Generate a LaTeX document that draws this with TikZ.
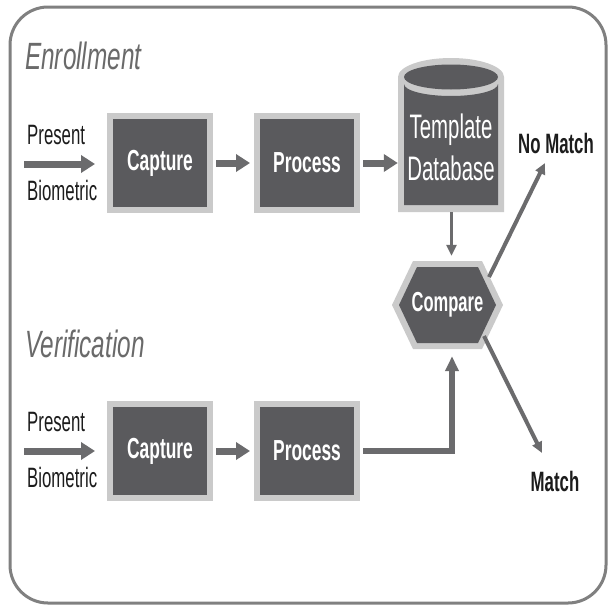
\documentclass[tikz,border=0pt]{standalone}
\usepackage{fontspec}
\setmainfont{Liberation Sans}[FakeStretch=0.6]
\newfontfamily\titlefont{Liberation Sans}[FakeStretch=0.64]
\usetikzlibrary{arrows.meta,calc}
\definecolor{boxdark}{HTML}{5A5A5D}
\definecolor{boxrim}{HTML}{CACACA}
\definecolor{arrowgray}{HTML}{6B6B6D}
\definecolor{framegray}{HTML}{808080}
\definecolor{titlegray}{HTML}{6A6A6A}
\definecolor{labelink}{HTML}{1C1C1C}
\begin{document}
\begin{tikzpicture}[x=1pt,y=-1pt,
  stepbox/.style={draw=boxrim, line width=6pt, fill=boxdark, minimum width=100pt,
    minimum height=94pt, inner sep=0pt, text=white,
    font=\bfseries\fontsize{29pt}{32pt}\selectfont},
  title/.style={anchor=base west, inner sep=0pt, text=titlegray,
    font=\titlefont\itshape\fontsize{38pt}{40pt}\selectfont},
  lbl/.style={anchor=base west, inner sep=0pt, text=labelink,
    font=\fontsize{28pt}{30pt}\selectfont},
  outlbl/.style={anchor=base, inner sep=0pt, text=labelink,
    font=\bfseries\fontsize{28pt}{30pt}\selectfont},
  fat/.style={draw=arrowgray, line width=7pt, -{Triangle[width=17pt,length=14pt]}},
  slim/.style={draw=arrowgray, line width=3.5pt, -{Triangle[width=10pt,length=11pt]}},
]
\useasboundingbox (0,0) rectangle (609,605);
\fill[white] (0,0) rectangle (609,605);
% frame
\draw[framegray, line width=3pt, rounded corners=38pt] (10,7) rectangle (606,603);

% titles
\node[title] (enr) at (25,69) {Enrollment};
\node[title] (ver) at (25,357) {Verification};

% enrollment row
\node[lbl] (pres1) at (27,144) {Present};
\node[lbl] (bio1) at (27,200) {Biometric};
\coordinate (in1) at (24,164);
\node[stepbox] (cap1) at (160,163) {Capture};
\node[stepbox] (proc1) at (307,163) {Process};

% template database cylinder
\fill[boxrim] (398,77) arc[start angle=180,end angle=360,x radius=53,y radius=19]
  -- (504,212) -- (398,212) -- cycle;
\fill[boxdark] (451,77) ellipse[x radius=47,y radius=12.5];
\fill[boxdark] (404,84) arc[start angle=180,end angle=0,x radius=47,y radius=12]
  -- (498,205) -- (404,205) -- cycle;
\node[inner sep=0pt, minimum width=106pt, minimum height=130pt, align=center,
  text=white, font=\fontsize{34pt}{42pt}\selectfont] (db) at (451,147)
  {Template\\Database};

% compare hexagon
\fill[boxrim] (392,305) -- (413,261) -- (482,261) -- (503,305) -- (482,349) -- (413,349) -- cycle;
\fill[boxdark] (399,305) -- (417,267) -- (478,267) -- (496,305) -- (478,343) -- (417,343) -- cycle;
\node[inner sep=0pt, minimum width=111pt, minimum height=88pt, text=white,
  font=\bfseries\fontsize{27.5pt}{30pt}\selectfont] (cmp) at (447.5,305) {Compare};
\coordinate (nmfrom) at (489,277);
\coordinate (mtfrom) at (484,336);

% outcomes
\node[outlbl] (nomatch) at (556,153) {No Match};
\node[outlbl] (match) at (555,491) {Match};
\coordinate (nmto) at (545,163);
\coordinate (mtto) at (542,453);

% verification row
\node[lbl] (pres2) at (27,431) {Present};
\node[lbl] (bio2) at (27,487) {Biometric};
\coordinate (in2) at (24,451);
\node[stepbox] (cap2) at (160,451) {Capture};
\node[stepbox] (proc2) at (307,451) {Process};

% connectors
\draw[fat, shorten >=12pt] (in1) -- (cap1.west |- in1);
\draw[fat, shorten <=3pt, shorten >=4pt] (cap1.east) -- (proc1.west);
\draw[fat, shorten <=3pt] (proc1.east) -- (proc1.east -| db.west);
\draw[slim, shorten >=5pt] ([xshift=0.5pt]db.south) -- ([xshift=4pt]cmp.north);
\draw[slim, line width=4pt] (nmfrom) -- (nmto);
\draw[slim, line width=4pt] (mtfrom) -- (mtto);

\draw[fat, shorten >=12pt] (in2) -- (cap2.west |- in2);
\draw[fat, shorten <=3pt, shorten >=4pt] (cap2.east) -- (proc2.west);
\draw[draw=arrowgray, line width=6pt, line join=miter, -{Triangle[width=13pt,length=15pt]},
  shorten <=3pt, shorten >=7pt]
  (proc2.east) -- ([xshift=4.5pt]cmp.south |- proc2.east) -- ([xshift=4.5pt]cmp.south);
\end{tikzpicture}
\end{document}
